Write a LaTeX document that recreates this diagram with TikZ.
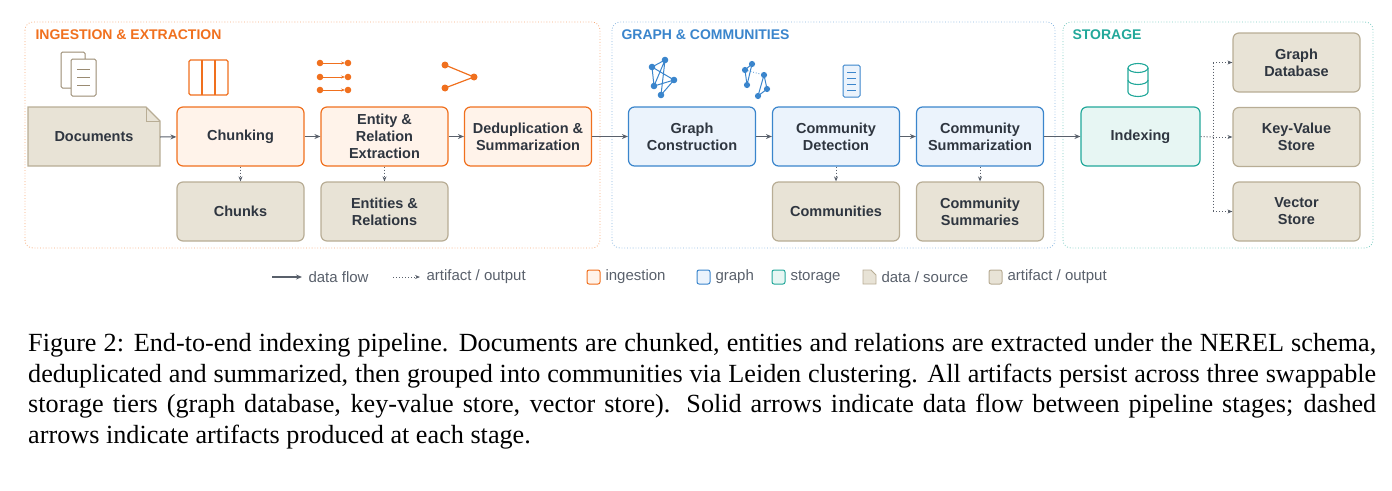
\documentclass[tikz,border=0pt]{standalone}
\usepackage{fontspec}
\setmainfont{Liberation Serif}
\newfontfamily\hv{Liberation Sans}
\usetikzlibrary{arrows.meta,shapes.misc}
\definecolor{org}{HTML}{F0701E}
\definecolor{orgf}{HTML}{FFF3EA}
\definecolor{blu}{HTML}{3A85CC}
\definecolor{bluf}{HTML}{EBF3FC}
\definecolor{tea}{HTML}{22A89A}
\definecolor{teaf}{HTML}{E7F6F3}
\definecolor{bei}{HTML}{E8E3D6}
\definecolor{beid}{HTML}{B8AD95}
\definecolor{txt}{HTML}{2F3640}
\definecolor{arr}{HTML}{59606B}
\definecolor{doci}{HTML}{9A8B72}
\begin{document}
\begin{tikzpicture}[x=1pt,y=-1pt,
 box/.style={draw,line width=1.2pt,rounded corners=6pt,minimum width=127pt,minimum height=59pt,align=center,font=\hv\bfseries\fontsize{14.5}{17}\selectfont,text=txt,inner sep=1pt},
 ing/.style={box,draw=org,fill=orgf},
 grp/.style={box,draw=blu,fill=bluf},
 sto/.style={box,draw=tea,fill=teaf},
 art/.style={box,draw=beid,fill=bei},
 panel/.style={dotted,line width=0.8pt,rounded corners=8pt},
 title/.style={anchor=west,font=\hv\bfseries\fontsize{14}{16}\selectfont},
 flow/.style={-{Stealth[length=6pt,width=5pt]},arr,line width=1.3pt},
 aflow/.style={-{Stealth[length=5pt,width=4pt]},arr,line width=1pt,dotted},
 leg/.style={anchor=west,font=\hv\fontsize{15}{17}\selectfont,text=arr}]
\useasboundingbox (0,0) rectangle (1392,490);
% panels
\draw[panel,draw=org!60] (25,22) rectangle (600,248);
\draw[panel,draw=blu!60] (612,22) rectangle (1055,248);
\draw[panel,draw=tea!60] (1063,22) rectangle (1373,248);
\node[title,text=org] (t1) at (32,35) {INGESTION \& EXTRACTION};
\node[title,text=blu] (t2) at (618,35) {GRAPH \& COMMUNITIES};
\node[title,text=tea] (t3) at (1069,35) {STORAGE};
% documents note shape
\draw[beid,fill=bei,line width=1.2pt] (28,107) -- (146,107) -- (160,121) -- (160,166) -- (28,166) -- cycle;
\draw[beid,line width=1pt] (146,107) -- (146,121) -- (160,121);
\node[font=\hv\bfseries\fontsize{14.5}{17}\selectfont,text=txt] (doc) at (94,137) {Documents};
\coordinate (docr) at (160,137);
\node[ing] (chk) at (240.5,136.5) {Chunking};
\node[ing] (ent) at (384.5,136.5) {Entity \&\\Relation\\Extraction};
\node[ing] (ded) at (528,136.5) {Deduplication \&\\Summarization};
\node[art] (chs) at (240.5,211.5) {Chunks};
\node[art] (ers) at (384.5,211.5) {Entities \&\\Relations};
\node[grp] (gc) at (692,136.5) {Graph\\Construction};
\node[grp] (cd) at (836,136.5) {Community\\Detection};
\node[grp] (cs) at (980,136.5) {Community\\Summarization};
\node[art] (com) at (836,211.5) {Communities};
\node[art] (csum) at (980,211.5) {Community\\Summaries};
\node[sto,minimum width=119pt] (idx) at (1140.5,136.5) {Indexing};
\node[art] (gdb) at (1296.5,62.5) {Graph\\Database};
\node[art] (kv) at (1296.5,137) {Key-Value\\Store};
\node[art] (vs) at (1296.5,211.5) {Vector\\Store};
% flows
\draw[flow,line width=1pt] (docr) -- (chk);
\draw[flow,line width=1pt] (chk) -- (ent);
\draw[flow,line width=1pt] (ent) -- (ded);
\draw[flow] (ded) -- (gc);
\draw[flow,line width=1pt] (gc) -- (cd);
\draw[flow,line width=1pt] (cd) -- (cs);
\draw[flow] (cs) -- (idx);
\draw[aflow] (chk) -- (chs);
\draw[aflow] (ent) -- (ers);
\draw[aflow] (cd) -- (com);
\draw[aflow] (cs) -- (csum);
\coordinate (sp) at (1213,137);
\draw[arr,line width=1pt,dotted] (idx.east) -- (sp);
\draw[arr,line width=1pt,dotted] (1213,62.5) -- (1213,211.5);
\draw[aflow] (1213,62.5) -- (gdb.west);
\draw[aflow] (sp) -- (kv.west);
\draw[aflow] (1213,211.5) -- (vs.west);
% icons: documents
\draw[doci,line width=1pt,fill=white,rounded corners=1.5pt] (61,52) rectangle (85,88);
\draw[doci,line width=1pt,fill=white,rounded corners=1.5pt] (71,59) rectangle (96,96);
\foreach \y in {69,77,85} \draw[doci,line width=1pt] (77,\y) -- (90,\y);
% chunk icon
\draw[org,line width=1.2pt,fill=white,rounded corners=1.5pt] (189,60) rectangle (228,95);
\draw[org,line width=1.2pt] (202,60) -- (202,95) (215,60) -- (215,95);
% entity icon
\foreach \y in {63,77,90}{
 \fill[org] (320,\y) circle (3.3pt) (348,\y) circle (3.3pt);
 \draw[org,line width=1pt,-{Stealth[length=4pt]}] (323,\y) -- (345,\y);}
% dedup icon
\fill[org] (445,65) circle (3.5pt) (445,88) circle (3.5pt) (474,77) circle (3.5pt);
\draw[org,line width=1.2pt] (445,65) -- (474,77) -- (445,88);
% graph icon
\begin{scope}[blu]
\coordinate (g1) at (665,60); \coordinate (g2) at (652,67); \coordinate (g3) at (674,80);
\coordinate (g4) at (654,86); \coordinate (g5) at (661,95);
\draw[line width=1pt] (g1)--(g2)--(g3)--(g5)--(g1) (g2)--(g4)--(g1) (g4)--(g3);
\foreach \p in {g1,g2,g3,g4,g5} \fill (\p) circle (3.3pt);
\end{scope}
\begin{scope}[blu]
\coordinate (c1) at (752,64); \coordinate (c2) at (745,70); \coordinate (c3) at (747,85);
\coordinate (c4) at (764,75); \coordinate (c5) at (767,89); \coordinate (c6) at (758,96);
\draw[line width=1pt] (c1)--(c2)--(c3)--(c1) (c4)--(c5)--(c6)--(c4);
\draw[line width=0.8pt,dotted] (c2)--(c4);
\foreach \p in {c1,c2,c3,c4,c5,c6} \fill (\p) circle (3.1pt);
\end{scope}
% summary doc icon
\draw[blu,line width=1pt,fill=bluf,rounded corners=1.5pt] (843,65) rectangle (860,97);
\foreach \y in {72,78,84,90} \draw[blu,line width=1pt] (847,\y) -- (856,\y);
% db icon
\begin{scope}[tea,line width=1.1pt]
\draw (1138,68) ellipse (10pt and 4.5pt);
\draw (1128,68) -- (1128,92) arc[start angle=180,end angle=360,x radius=10pt,y radius=4.5pt] -- (1148,68);
\draw (1128,80) arc[start angle=180,end angle=360,x radius=10pt,y radius=4.5pt];
\end{scope}
% legend
\coordinate (l1) at (272,277); \coordinate (l2) at (302,277);
\draw[flow,line width=1.2pt] (l1) -- (l2);
\node[leg] (lt1) at (305,277) {data flow};
\coordinate (l3) at (393,277); \coordinate (l4) at (420,277);
\draw[aflow] (l3) -- (l4);
\node[leg] (lt2) at (423,277) {artifact / output};
\draw[org,fill=orgf,line width=1pt,rounded corners=2pt] (587,270) rectangle (600,284);
\node[leg] (lt3) at (602,277) {ingestion};
\draw[blu,fill=bluf,line width=1pt,rounded corners=2pt] (697,270) rectangle (710,284);
\node[leg] (lt4) at (712,277) {graph};
\draw[tea,fill=teaf,line width=1pt,rounded corners=2pt] (772,270) rectangle (785,284);
\node[leg] (lt5) at (787,277) {storage};
\draw[beid,fill=bei,line width=0.8pt] (863,270) -- (871,270) -- (876,275) -- (876,284) -- (863,284) -- cycle;
\node[leg] (lt6) at (878,277) {data / source};
\draw[beid,fill=bei,line width=1pt,rounded corners=2pt] (989,270) rectangle (1002,284);
\node[leg] (lt7) at (1004,277) {artifact / output};
% caption
\node[anchor=north west,inner sep=0pt,text width=1348pt,align=justify,font=\fontsize{26.2}{30.8}\selectfont] (cap) at (28,333)
{Figure 2: End-to-end indexing pipeline. Documents are chunked, entities and relations are extracted under the NEREL schema, deduplicated and summarized, then grouped into communities via Leiden clustering. All artifacts persist across three swappable storage tiers (graph database, key-value store, vector store). Solid arrows indicate data flow between pipeline stages; dashed arrows indicate artifacts produced at each stage.};
\end{tikzpicture}
\end{document}
